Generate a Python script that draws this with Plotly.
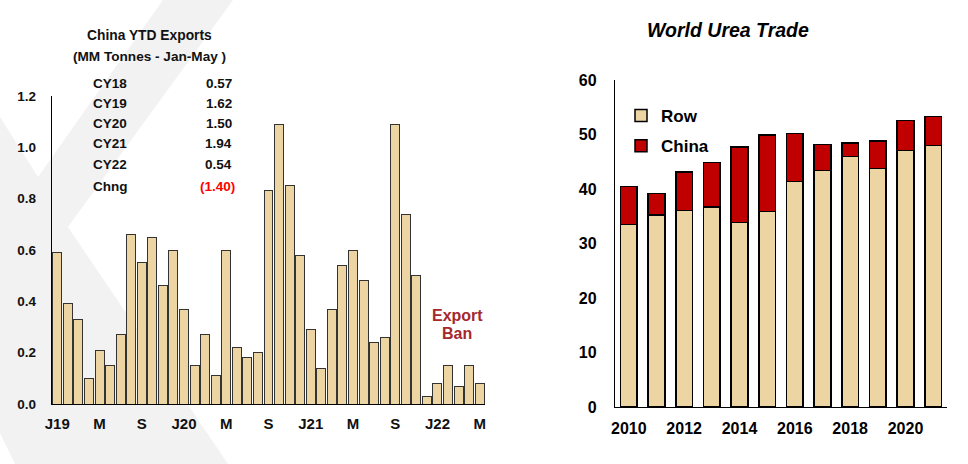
import plotly.graph_objects as go

# ---- Left chart data: China monthly urea exports (MM tonnes), Jan-2019 .. May-2022
month_vals = [
    0.59, 0.39, 0.33, 0.10, 0.21, 0.15, 0.27, 0.66, 0.55, 0.65, 0.46, 0.60,   # 2019
    0.37, 0.15, 0.27, 0.11, 0.60, 0.22, 0.18, 0.20, 0.83, 1.09, 0.85, 0.58,   # 2020
    0.29, 0.14, 0.37, 0.54, 0.60, 0.48, 0.24, 0.26, 1.09, 0.74, 0.50, 0.03,   # 2021
    0.08, 0.15, 0.07, 0.15, 0.08,                                             # 2022
]
month_tick_idx = [0, 4, 8, 12, 16, 20, 24, 28, 32, 36, 40]
month_tick_text = ["J19", "M", "S", "J20", "M", "S", "J21", "M", "S", "J22", "M"]

ytd_labels = ["CY18", "CY19", "CY20", "CY21", "CY22", "Chng"]
ytd_values = ["0.57", "1.62", "1.50", "1.94", "0.54", "(1.40)"]

# ---- Right chart data: World urea trade (MM tonnes)
years = [2010, 2011, 2012, 2013, 2014, 2015, 2016, 2017, 2018, 2019, 2020, 2021]
row_vals = [33.5, 35.2, 36.1, 36.7, 33.9, 35.9, 41.4, 43.4, 46.0, 43.8, 47.1, 48.0]
total_vals = [40.5, 39.2, 43.1, 44.9, 47.7, 49.9, 50.2, 48.2, 48.4, 48.8, 52.6, 53.3]
china_vals = [round(t - r, 2) for t, r in zip(total_vals, row_vals)]
year_ticks = [2010, 2012, 2014, 2016, 2018, 2020]

W, H = 968, 464
FONT = "Arial, Liberation Sans, sans-serif"
TAN = "#ecd5a3"
RED = "#c00000"


def px(x):
    return x / W


def py(y):
    return 1 - y / H


fig = go.Figure()

fig.add_trace(go.Bar(
    x=list(range(len(month_vals))), y=month_vals,
    marker=dict(color=TAN, line=dict(color="#333333", width=1)),
    xaxis="x", yaxis="y", showlegend=False,
))

fig.add_trace(go.Bar(
    x=years, y=row_vals, name="<b>Row</b>",
    marker=dict(color=TAN, line=dict(color="#000000", width=1.5)),
    xaxis="x2", yaxis="y2", legendgroup="a", width=0.6,
))
fig.add_trace(go.Bar(
    x=years, y=china_vals, name="<b>China</b>",
    marker=dict(color=RED, line=dict(color="#000000", width=1.5)),
    xaxis="x2", yaxis="y2", legendgroup="b", width=0.6,
))

# watermark
pts = [(163, 0), (233, 0), (68, 227), (228, 464), (15, 464), (0, 433), (0, 117), (38, 177)]
path = "M " + " L ".join(f"{px(x):.4f},{py(y):.4f}" for x, y in pts) + " Z"

annotations = [
    dict(text="<b>China YTD Exports</b>", x=px(149), y=py(35), xref="paper", yref="paper",
         showarrow=False, font=dict(size=13.8, color="#111", family=FONT), xanchor="center", yanchor="middle"),
    dict(text="<b>(MM Tonnes - Jan-May )</b>", x=px(149.5), y=py(56), xref="paper", yref="paper",
         showarrow=False, font=dict(size=13.6, color="#111", family=FONT), xanchor="center", yanchor="middle"),
    dict(text="<b><i>World Urea Trade</i></b>", x=px(728), y=py(30), xref="paper", yref="paper",
         showarrow=False, font=dict(size=19.5, color="#000", family=FONT), xanchor="center", yanchor="middle"),
    dict(text="<b>Export</b>", x=px(457), y=py(315), xref="paper", yref="paper",
         showarrow=False, font=dict(size=16, color="#a5282c", family=FONT), xanchor="center", yanchor="middle"),
    dict(text="<b>Ban</b>", x=px(457), y=py(333), xref="paper", yref="paper",
         showarrow=False, font=dict(size=16, color="#a5282c", family=FONT), xanchor="center", yanchor="middle"),
]
row_y = [83, 103, 124, 144, 164, 186]
for lab, val, yy in zip(ytd_labels, ytd_values, row_y):
    annotations.append(dict(text=f"<b>{lab}</b>", x=px(91), y=py(yy), xref="paper", yref="paper",
                            showarrow=False, font=dict(size=13.5, color="#111", family=FONT),
                            xanchor="left", yanchor="middle"))
    col = "#ff0000" if val.startswith("(") else "#111"
    annotations.append(dict(text=f"<b>{val}</b>", x=px(237 if val.startswith("(") else 234), y=py(yy),
                            xref="paper", yref="paper", showarrow=False,
                            font=dict(size=13.5, color=col, family=FONT), xanchor="right", yanchor="middle"))

axis_common = dict(showgrid=False, zeroline=False, showline=True, linecolor="#000", linewidth=1.3,
                   ticks="", automargin=False)

fig.update_layout(
    width=W, height=H,
    margin=dict(l=0, r=0, t=0, b=0, pad=0),
    paper_bgcolor="white", plot_bgcolor="rgba(0,0,0,0)",
    barmode="stack",
    font=dict(family=FONT),
    shapes=[dict(type="path", path=path, xref="paper", yref="paper",
                 fillcolor="#f2f2f2", line=dict(width=0), layer="below")],
    annotations=annotations,
    xaxis=dict(domain=[px(52), px(485)], range=[-0.5, 40.5], tickmode="array",
               tickvals=month_tick_idx, ticktext=[f"<b>{t}</b>" for t in month_tick_text],
               anchor="y", ticklabelstandoff=6, tickfont=dict(family=FONT, size=15, color="#111"),
               **axis_common),
    yaxis=dict(domain=[py(404), py(96)], range=[0, 1.2], tickmode="array",
               tickvals=[0, 0.2, 0.4, 0.6, 0.8, 1.0, 1.2],
               ticktext=[f"<b>{v:.1f}</b>" for v in [0, 0.2, 0.4, 0.6, 0.8, 1.0, 1.2]],
               anchor="x", ticklabelstandoff=12, tickfont=dict(family=FONT, size=13.5, color="#111"),
               **axis_common),
    xaxis2=dict(domain=[px(615), px(947)], range=[2009.5, 2021.5], tickmode="array",
                tickvals=year_ticks, ticktext=[f"<b>{y}</b>" for y in year_ticks],
                anchor="y2", ticklabelstandoff=7, tickfont=dict(family=FONT, size=16, color="#000"),
                **axis_common),
    yaxis2=dict(domain=[py(407), py(80)], range=[0, 60], tickmode="array",
                tickvals=[0, 10, 20, 30, 40, 50, 60],
                ticktext=[f"<b>{v}</b>" for v in [0, 10, 20, 30, 40, 50, 60]],
                anchor="x2", ticklabelstandoff=14, tickfont=dict(family=FONT, size=16, color="#000"),
                **axis_common),
    bargap=0.15,
    legend=dict(x=px(621), y=py(98), xanchor="left", yanchor="top", traceorder="grouped",
                tracegroupgap=5, bgcolor="rgba(0,0,0,0)",
                font=dict(family=FONT, size=17, color="#000"), itemwidth=30),
)

fig.write_html(
    "out.html",
    config={"displayModeBar": False},
    post_script="document.body.style.margin='0';document.body.style.padding='0';"
                "document.documentElement.style.overflow='hidden';",
)
